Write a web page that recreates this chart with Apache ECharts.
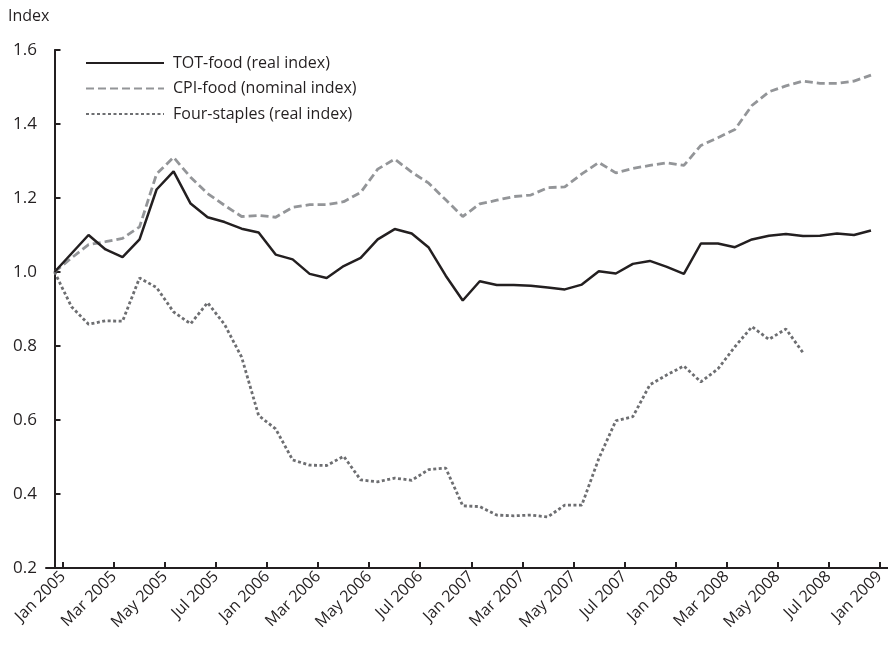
<!DOCTYPE html>
<html>
<head>
<meta charset="utf-8">
<script src="https://cdn.jsdelivr.net/npm/echarts@6/dist/echarts.min.js"></script>
<style>
html,body{margin:0;padding:0;background:#fff;}
#chart{width:888px;height:649px;}
</style>
</head>
<body>
<div id="chart"></div>
<script>
// Tick labels (placed every 3 monthly points, at the band boundaries)
var tickLabels = ['Jan 2005','Mar 2005','May 2005','Jul 2005','Jan 2006','Mar 2006','May 2006','Jul 2006','Jan 2007','Mar 2007','May 2007','Jul 2007','Jan 2008','Mar 2008','May 2008','Jul 2008','Jan 2009'];

var seriesNames = ['TOT-food (real index)', 'CPI-food (nominal index)', 'Four-staples (real index)'];

var totFood = [1.0, 1.05, 1.10, 1.061, 1.04, 1.088, 1.223, 1.272, 1.185, 1.148, 1.135, 1.117, 1.107, 1.047, 1.034, 0.995, 0.984, 1.016, 1.038, 1.088, 1.116, 1.104, 1.066, 0.99, 0.923, 0.975, 0.965, 0.965, 0.963, 0.958, 0.953, 0.966, 1.002, 0.996, 1.022, 1.030, 1.014, 0.995, 1.077, 1.077, 1.067, 1.088, 1.098, 1.103, 1.097, 1.098, 1.104, 1.100, 1.112];

var cpiFood = [1.0, 1.038, 1.074, 1.082, 1.091, 1.122, 1.265, 1.31, 1.256, 1.212, 1.18, 1.15, 1.153, 1.148, 1.175, 1.182, 1.182, 1.19, 1.215, 1.278, 1.305, 1.27, 1.24, 1.195, 1.15, 1.184, 1.194, 1.204, 1.208, 1.228, 1.23, 1.265, 1.296, 1.268, 1.28, 1.288, 1.295, 1.288, 1.342, 1.363, 1.385, 1.45, 1.487, 1.503, 1.516, 1.51, 1.51, 1.516, 1.532];

var fourStaples = [1.0, 0.906, 0.859, 0.868, 0.867, 0.984, 0.958, 0.892, 0.86, 0.917, 0.858, 0.77, 0.612, 0.576, 0.492, 0.478, 0.477, 0.502, 0.438, 0.433, 0.443, 0.437, 0.466, 0.47, 0.368, 0.366, 0.343, 0.341, 0.343, 0.338, 0.370, 0.370, 0.496, 0.598, 0.609, 0.695, 0.722, 0.746, 0.703, 0.738, 0.798, 0.852, 0.818, 0.846, 0.782];

function toPairs(arr){ return arr.map(function(v,i){ return [i, v]; }); }
var tickPositions = tickLabels.map(function(_, k){ return 0.5 + 3*k; });

var ink = '#231f20';
var font = '"Open Sans", Lato, sans-serif';

var chart = echarts.init(document.getElementById('chart'), null, {renderer:'canvas'});
chart.setOption({
  animation: false,
  backgroundColor: '#fff',
  title: {
    text: 'Index', left: 3, top: 3,
    textStyle: {fontFamily: font, fontSize: 16, fontWeight: 'normal', color: ink}
  },
  legend: {
    orient: 'vertical', left: 80, top: 50,
    itemWidth: 78, itemHeight: 14, itemGap: 9.5,
    data: seriesNames,
    itemStyle: {opacity: 0},
    textStyle: {fontFamily: font, fontSize: 16, color: ink, padding: [0,0,0,4]}
  },
  grid: {left: 46, right: 0, top: 50, bottom: 81, outerBoundsMode: 'none'},
  xAxis: {
    type: 'value', min: -0.5, max: 49,
    splitLine: {show: false},
    axisLine: {show: true, lineStyle: {color: ink, width: 2}},
    axisTick: {show: true, inside: true, length: 6, lineStyle: {color: ink, width: 2}, customValues: tickPositions},
    axisLabel: {
      customValues: tickPositions, rotate: 45, margin: 6,
      fontFamily: font, fontSize: 16, color: ink,
      formatter: function(v){ return tickLabels[Math.round((v - 0.5)/3)]; }
    }
  },
  yAxis: {
    type: 'value', min: 0.2, max: 1.6, interval: 0.2,
    splitLine: {show: false},
    axisLine: {show: true, lineStyle: {color: ink, width: 2}},
    axisTick: {show: true, inside: true, length: 6, lineStyle: {color: ink, width: 2}},
    axisLabel: {margin: 9, fontFamily: font, fontSize: 17, color: ink,
      formatter: function(v){ return v.toFixed(1); }}
  },
  series: [
    {name: seriesNames[0], type: 'line', data: toPairs(totFood), symbol: 'none',
     lineStyle: {color: ink, width: 2.5}, itemStyle: {color: ink}, z: 4},
    {name: seriesNames[1], type: 'line', data: toPairs(cpiFood), symbol: 'none',
     lineStyle: {color: '#939598', width: 2.8, type: [8, 4]}, itemStyle: {color: '#939598'}, z: 3},
    {name: seriesNames[2], type: 'line', data: toPairs(fourStaples), symbol: 'none',
     lineStyle: {color: '#6d6e71', width: 2.8, type: [3, 2.5]}, itemStyle: {color: '#6d6e71'}, z: 2}
  ]
});
</script>
</body>
</html>
